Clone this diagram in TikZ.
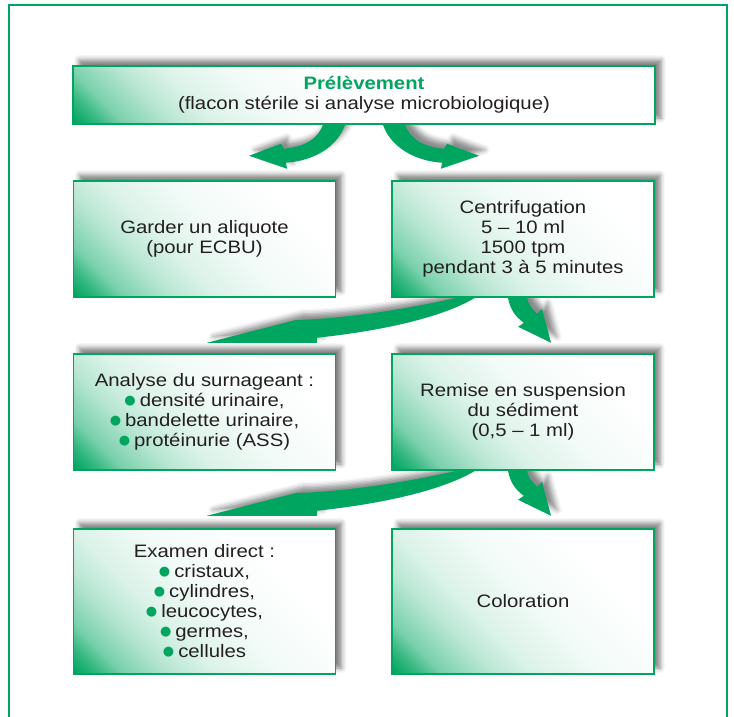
\documentclass[tikz,border=0pt]{standalone}
\usepackage{fontspec}
\setmainfont{Liberation Sans}[FakeStretch=1.13]
\newfontfamily\bulfont{DejaVu Sans}
\usetikzlibrary{shadows.blur}
\definecolor{gr}{RGB}{0,166,96}
\definecolor{txt}{RGB}{35,31,32}
\pgfdeclarelayer{bg}
\pgfsetlayers{bg,main}
\pgfdeclarehorizontalshading{gshade}{100bp}{color(0bp)=(gr); color(14.6bp)=(gr); color(16bp)=(gr!80); color(17.5bp)=(gr!52); color(20.5bp)=(gr!27); color(23bp)=(gr!14); color(27bp)=(gr!5); color(33bp)=(white); color(100bp)=(white)}
\newcommand\bul{\raisebox{2.5pt}{\bulfont\fontsize{13}{13}\selectfont\textcolor{gr}{●}}\hspace{4pt}}
\tikzset{
  box/.style={rectangle, draw=gr, line width=1.5pt, fill=white, inner sep=0pt, align=center, text=txt,
    font=\fontsize{18}{20}\selectfont,
    path picture={\shade[shading=gshade, shading angle=45] (path picture bounding box.south west) rectangle ++(600,-600);},
    blur shadow={shadow xshift=6pt, shadow yshift=6pt, shadow blur radius=5pt, shadow opacity=50}},
  arr/.style={fill=gr, draw=none, blur shadow={shadow xshift=6pt, shadow yshift=6pt, shadow blur radius=5pt, shadow opacity=45}},
  rowbox/.style={box, minimum width=262pt, minimum height=116pt},
  tallbox/.style={box, minimum width=262pt, minimum height=145pt},
}
\begin{document}
\begin{tikzpicture}[x=1pt,y=-1pt]
\useasboundingbox (0,0) rectangle (734,717);
% frame
\draw[gr, line width=2.5pt] (9,725) -- (9,5) -- (727,5) -- (727,725);
% boxes
\node[box, minimum width=582pt, minimum height=58pt] (top) at (364,95)
  {{\bfseries\color{gr}Prélèvement}\\(flacon stérile si analyse microbiologique)};
\node[rowbox] (g1) at (204.5,239) {Garder un aliquote\\(pour ECBU)};
\node[rowbox] (c1) at (523,239) {Centrifugation\\5 – 10 ml\\1500 tpm\\pendant 3 à 5 minutes};
\node[rowbox] (a2) at (204.5,412) {Analyse du surnageant :\\\bul densité urinaire,\\\bul bandelette urinaire,\\\bul protéinurie (ASS)};
\node[rowbox] (r2) at (523,412) {Remise en suspension\\du sédiment\\(0,5 – 1 ml)};
\node[tallbox] (e3) at (204.5,601.5) {Examen direct :\\\bul cristaux,\\\bul cylindres,\\\bul leucocytes,\\\bul germes,\\\bul cellules};
\node[tallbox] (col) at (523,601.5) {Coloration};
% arrows
\begin{pgfonlayer}{bg}
\begin{scope}[shift={(top.south)}]
\fill[arr] (-41,0) .. controls (-46,14) and (-59,22) .. (-80,24) -- (-83,19) -- (-115,31) -- (-77,44) -- (-78,38) .. controls (-49,36) and (-26,21) .. (-19,0) -- cycle;
\fill[arr] (41,0) .. controls (46,14) and (59,22) .. (80,24) -- (83,19) -- (115,31) -- (77,44) -- (78,38) .. controls (49,36) and (26,21) .. (19,0) -- cycle;
\end{scope}
\begin{scope}[shift={(c1.south)}]
\fill[arr] (-66,0) .. controls (-110,10) and (-170,20) .. (-220,22) -- (-226,22) -- (-316,45) -- (-206,45) -- (-206,40) .. controls (-150,34) and (-85,22) .. (-48,0) -- cycle;
\fill[arr] (-15,0) .. controls (-13,11) and (-8,19) .. (1,25) -- (-5,29) -- (28,45) -- (19,11) -- (14,16) .. controls (9,11) and (5,6) .. (4,0) -- cycle;
\end{scope}
\begin{scope}[shift={(r2.south)}]
\fill[arr] (-66,0) .. controls (-110,10) and (-170,20) .. (-220,22) -- (-226,22) -- (-316,45) -- (-206,45) -- (-206,40) .. controls (-150,34) and (-85,22) .. (-48,0) -- cycle;
\fill[arr] (-15,0) .. controls (-13,11) and (-8,19) .. (1,25) -- (-5,29) -- (28,45) -- (19,11) -- (14,16) .. controls (9,11) and (5,6) .. (4,0) -- cycle;
\end{scope}
\end{pgfonlayer}
\end{tikzpicture}
\end{document}
